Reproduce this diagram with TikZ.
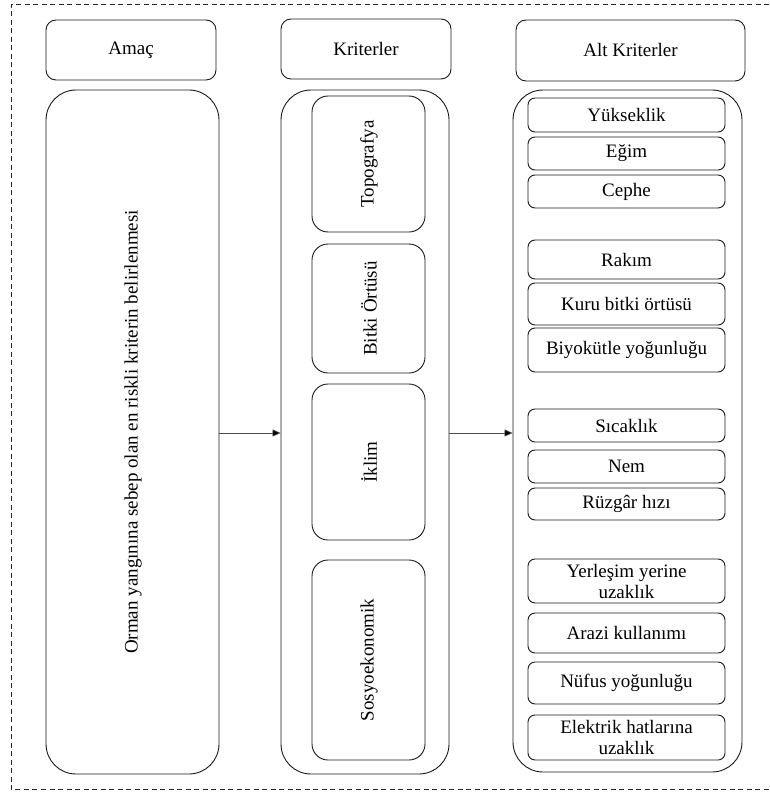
\documentclass[tikz,border=0pt]{standalone}
\usepackage{fontspec}
\setmainfont{Liberation Serif}
\usetikzlibrary{arrows.meta}
\tikzset{
  txt/.style={font=\fontsize{19}{21}\selectfont},
  base/.style={draw=black!90, line width=0.9pt, inner sep=0pt, align=center, txt},
  hbox/.style={base, rounded corners=10pt},
  bigbox/.style={base, rounded corners=30pt},
  midbox/.style={base, rounded corners=16pt},
  subbox/.style={base, rounded corners=7pt, minimum width=197pt},
  conn/.style={draw=black!70, line width=0.6pt, -{Triangle[length=8pt,width=7pt,fill=black]}},
  frame/.style={draw=black!85, line width=0.8pt, dash pattern=on 5pt off 3.5pt}
}
\begin{document}
\begin{tikzpicture}[x=1pt,y=-1pt]
\useasboundingbox (0,0) rectangle (769,792);
% frame
\coordinate (f1) at (769,4.5);
\coordinate (f2) at (11,4.5);
\coordinate (f3) at (11,789);
\coordinate (f4) at (769,789);
\draw[frame] (f1) -- (f2) -- (f3) -- (f4);
% headers
\node[hbox, minimum width=170pt, minimum height=60pt] (amac) at (131,50) {Amaç};
\node[hbox, minimum width=170pt, minimum height=60pt] (krit) at (366,49) {Kriterler};
\node[hbox, minimum width=229pt, minimum height=61pt] (alt) at (630.5,50.5) {Alt Kriterler};
% big boxes
\node[bigbox, minimum width=173pt, minimum height=684pt] (goal) at (132.5,432) {};
\node[rotate=90, txt] (goaltxt) at (133,432) {Orman yangınına sebep olan en riskli kriterin belirlenmesi};
\node[bigbox, minimum width=168pt, minimum height=684pt] (kbig) at (365,432) {};
\node[bigbox, minimum width=229pt, minimum height=682pt] (abig) at (627.5,431) {};
% criteria
\node[midbox, minimum width=113pt, minimum height=136pt] (topo) at (368.5,164) {};
\node[rotate=90, txt] (topotxt) at (369,164) {Topografya};
\node[midbox, minimum width=113pt, minimum height=129pt] (bitki) at (368.5,308.5) {};
\node[rotate=90, txt] (bitkitxt) at (369,308.5) {Bitki Örtüsü};
\node[midbox, minimum width=113pt, minimum height=156pt] (iklim) at (368.5,462) {};
\node[rotate=90, txt] (iklimtxt) at (369,462) {İklim};
\node[midbox, minimum width=113pt, minimum height=200pt] (sosyo) at (368.5,660) {};
\node[rotate=90, txt] (sosyotxt) at (369,660) {Sosyoekonomik};
% sub criteria
\node[subbox, minimum height=34pt] (yuk) at (626.5,115) {Yükseklik};
\node[subbox, minimum height=33pt] (egim) at (626.5,153.5) {Eğim};
\node[subbox, minimum height=33pt] (cephe) at (626.5,191.5) {Cephe};
\node[subbox, minimum height=39pt] (rakim) at (626.5,259.5) {Rakım};
\node[subbox, minimum height=42pt] (kuru) at (626.5,304) {Kuru bitki örtüsü};
\node[subbox, minimum height=44pt] (biyo) at (626.5,350) {Biyokütle yoğunluğu};
\node[subbox, minimum height=33pt] (sicak) at (626.5,425.5) {Sıcaklık};
\node[subbox, minimum height=33pt] (nem) at (626.5,466.5) {Nem};
\node[subbox, minimum height=32pt] (ruzgar) at (626.5,504) {Rüzgâr hızı};
\node[subbox, minimum height=44pt] (yerl) at (626.5,581) {Yerleşim yerine\\uzaklık};
\node[subbox, minimum height=40pt] (arazi) at (626.5,633) {Arazi kullanımı};
\node[subbox, minimum height=42pt] (nufus) at (626.5,683) {Nüfus yoğunluğu};
\node[subbox, minimum height=45pt] (elek) at (626.5,737.5) {Elektrik hatlarına\\uzaklık};
% connectors
\draw[conn] ([yshift=-1pt]goal.east) -- ([yshift=-1pt]kbig.west);
\draw[conn] ([yshift=-1pt]kbig.east) -- ([yshift=-1pt]kbig.east -| abig.west);
\end{tikzpicture}
\end{document}
